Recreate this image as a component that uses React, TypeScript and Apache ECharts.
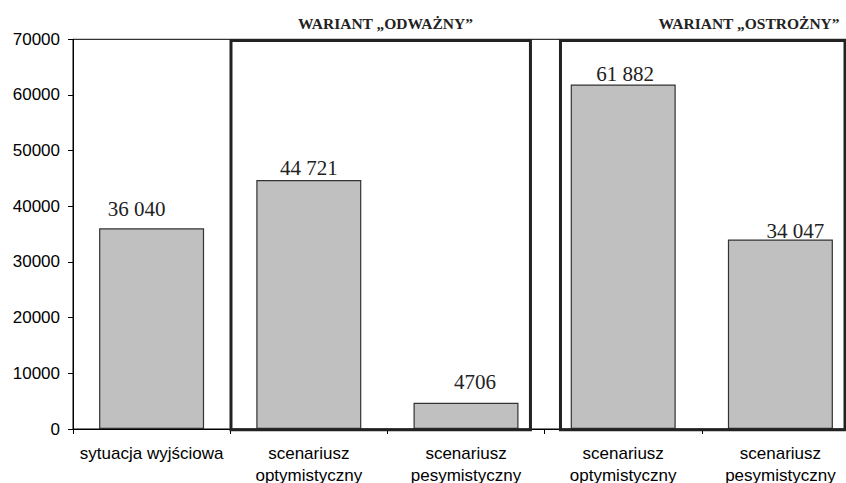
import React, { useEffect, useRef } from "react";
import * as echarts from "echarts";

const categories = [
  "sytuacja wyjściowa",
  "scenariusz\noptymistyczny",
  "scenariusz\npesymistyczny",
  "scenariusz\noptymistyczny",
  "scenariusz\npesymistyczny",
];
const values = [36040, 44721, 4706, 61882, 34047];
const yTicks = { min: 0, max: 70000, interval: 10000 };
const headers = ["WARIANT „ODWAŻNY”", "WARIANT „OSTROŻNY”"];

// label nudges (style only): [dx, dy]
const labelShift: [number, number][] = [
  [-15, -9],
  [0, -2],
  [9, -10],
  [2, 0],
  [15, 2],
];
// frame extents in category-index units and value units: [x0, x1, y0, y1]
const frames: number[][] = [
  [0.505, 2.41, -150, 69800],
  [2.601, 4.411, -150, 69800],
];

function fmt(v: number): string {
  if (v < 10000) return String(v);
  const s = String(v);
  return s.slice(0, s.length - 3) + " " + s.slice(s.length - 3);
}

export default function App() {
  const ref = useRef<HTMLDivElement>(null);
  useEffect(() => {
    if (!ref.current) return;
    const chart = echarts.init(ref.current, undefined, { renderer: "svg" });
    chart.setOption({
      animation: false,
      backgroundColor: "#fff",
      grid: {
        left: 73,
        top: 39.3,
        bottom: 54,
        right: 1,
        containLabel: false,
        outerBoundsMode: "none",
        show: true,
        borderColor: "#000",
        borderWidth: 1,
        backgroundColor: "transparent",
      },
      xAxis: [
        {
          type: "category",
          data: categories,
          boundaryGap: true,
          axisLine: { show: true, lineStyle: { color: "#000", width: 1 } },
          axisTick: { show: true, interval: 0, length: 5, lineStyle: { color: "#000" } },
          axisLabel: {
            interval: 0,
            margin: 13,
            fontFamily: "'Liberation Sans', Arial, sans-serif",
            fontSize: 17,
            lineHeight: 22,
            color: "#000",
          },
          splitLine: { show: false },
        },
        {
          type: "value",
          min: -0.5,
          max: 4.5,
          show: false,
        },
      ],
      yAxis: {
        type: "value",
        min: yTicks.min,
        max: yTicks.max,
        interval: yTicks.interval,
        axisLine: { show: true, onZero: false, lineStyle: { color: "#000", width: 1 } },
        axisTick: { show: true, length: 5, lineStyle: { color: "#000" } },
        axisLabel: {
          margin: 13,
          fontFamily: "'Liberation Sans', Arial, sans-serif",
          fontSize: 17,
          color: "#000",
          formatter: (v: number) => String(v),
        },
        splitLine: { show: false },
      },
      graphic: [
        {
          type: "text",
          x: 385.5,
          y: 23,
          style: {
            text: headers[0],
            align: "center",
            verticalAlign: "middle",
            fontFamily: "'Liberation Serif', 'Times New Roman', serif",
            fontWeight: "bold",
            fontSize: 15.5,
            fill: "#222",
          },
        },
        {
          type: "text",
          x: 749,
          y: 23,
          style: {
            text: headers[1],
            align: "center",
            verticalAlign: "middle",
            fontFamily: "'Liberation Serif', 'Times New Roman', serif",
            fontWeight: "bold",
            fontSize: 15.5,
            fill: "#222",
          },
        },
      ],
      series: [
        {
          type: "bar",
          xAxisIndex: 0,
          barWidth: 105,
          data: values.map((v, i) => ({
            value: v,
            label: { offset: labelShift[i] },
          })),
          itemStyle: { color: "#c0c0c0", borderColor: "#333", borderWidth: 1.2 },
          label: {
            show: true,
            position: "top",
            distance: 0,
            fontFamily: "'Liberation Serif', 'Times New Roman', serif",
            fontSize: 21,
            color: "#222",
            formatter: (p: any) => fmt(p.value),
          },
        },
        {
          type: "custom",
          xAxisIndex: 1,
          yAxisIndex: 0,
          clip: false,
          z: 10,
          encode: { x: [0, 1], y: [2, 3] },
          data: frames,
          renderItem: (_params: any, api: any) => {
            const p0 = api.coord([api.value(0), api.value(3)]);
            const p1 = api.coord([api.value(1), api.value(2)]);
            return {
              type: "rect",
              shape: { x: p0[0], y: p0[1], width: p1[0] - p0[0], height: p1[1] - p0[1] },
              style: { fill: "none", stroke: "#222", lineWidth: 3 },
            };
          },
        },
      ],
    });
    return () => chart.dispose();
  }, []);
  return (
    <div
      style={{
        position: "absolute",
        left: 0,
        top: 0,
        width: 846,
        height: 483,
        overflow: "hidden",
        background: "#fff",
      }}
    >
      <div ref={ref} style={{ width: 860, height: 483 }} />
    </div>
  );
}
